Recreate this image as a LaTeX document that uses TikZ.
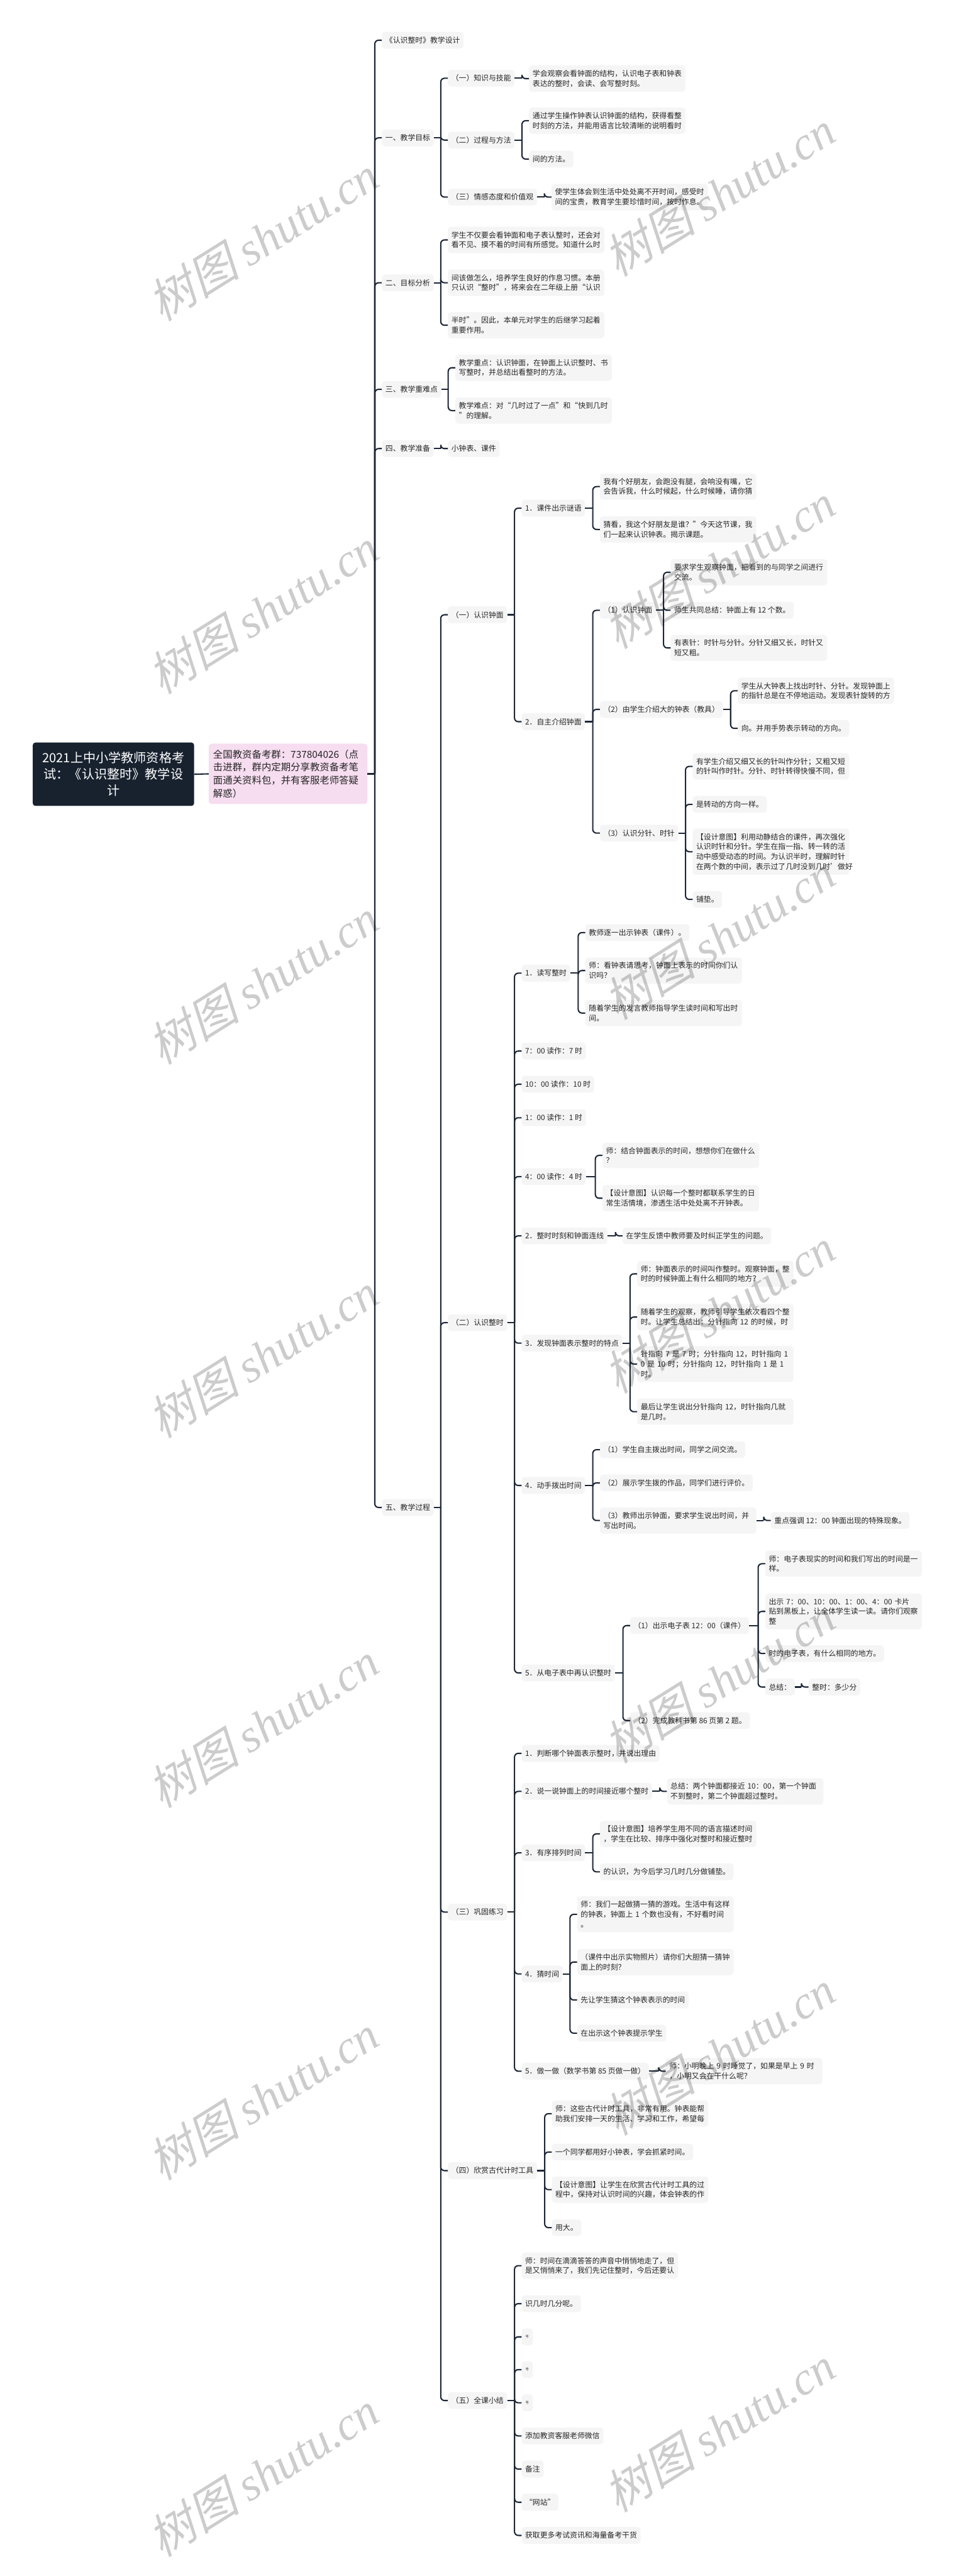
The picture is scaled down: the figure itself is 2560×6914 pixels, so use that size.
\documentclass[tikz,border=0pt]{standalone}
\usepackage{fontspec}
\setmainfont{Noto Sans CJK SC}
\newfontfamily\wmlat{Liberation Serif}
\newfontfamily\wmcjk[FakeSlant=0.25]{Noto Sans CJK SC}
\definecolor{boxfill}{HTML}{F5F5F5}
\definecolor{txt}{HTML}{262626}
\definecolor{linec}{HTML}{1C2636}
\definecolor{rootfill}{HTML}{18222F}
\definecolor{pinkfill}{HTML}{F6DDF0}
\tikzset{
  box/.style={fill=boxfill, rounded corners=8pt, text=txt, font=\fontsize{20}{26.5}\selectfont,
    inner xsep=9.5pt, inner ysep=12.5pt, minimum height=45pt, anchor=west},
  wbox/.style={box, text width=401pt, align=left},
  hao/.style={box, font=\fontsize{9}{10}\selectfont, inner xsep=0pt, minimum width=30pt},
  rootbox/.style={fill=rootfill, rounded corners=7pt, text=white, font=\fontsize{34}{44}\selectfont,
    align=center, minimum width=433pt, minimum height=170pt, inner xsep=4pt},
  pinkbox/.style={fill=pinkfill, rounded corners=8pt, text=txt, font=\fontsize{26}{35}\selectfont,
    text width=402pt, align=left, inner xsep=12pt, minimum height=162pt, anchor=west},
  conn/.style={draw=linec, line width=3.5pt},
  wm/.style={text=black, text opacity=0.2, rotate=32, font=\fontsize{125}{130}\selectfont}
}
\newcommand{\cn}[2]{%
  \path (#2.west) ++(-19,0) coordinate (tmpb);
  \draw[conn] (#1.east) -- (#1.east -| tmpb);
  \draw[conn,rounded corners=10pt] (#1.east -| tmpb) |- (#2.west);}
\newcommand{\wmtext}{{\wmcjk 树图}\ {\wmlat\itshape shutu.cn}}
\begin{document}
\begin{tikzpicture}[x=1pt,y=-1pt]
\useasboundingbox (0,0) rectangle (2560,6914);
% root
\node[rootbox] (root) at (304.5,2078) {2021上中小学教师资格考\\试：《认识整时》教学设\\计};
\node[pinkbox] (pk) at (560,2077) {全国教资备考群：737804026（点\\击进群，群内定期分享教资备考笔\\面通关资料包，并有客服老师答疑\\解惑）};
\draw[conn] (root.east) -- (pk.west);
% level 1
\node[box] (a) at (1025,108) {《认识整时》教学设计};
\node[box] (b) at (1025,370) {一、教学目标};
\node[box] (c) at (1025,759) {二、目标分析};
\node[box] (d) at (1025,1045) {三、教学重难点};
\node[box] (e) at (1025,1204) {四、教学准备};
\node[box] (f) at (1025,4046) {五、教学过程};
\foreach \n in {a,b,c,d,e,f} {\cn{pk}{\n}}
% 一
\node[box] (b1) at (1202,210) {（一）知识与技能};
\node[wbox] (b1a) at (1420,211) {学会观察会看钟面的结构，认识电子表和钟表\\表达的整时，会读、会写整时刻。};
\node[box] (b2) at (1202,376) {（二）过程与方法};
\node[wbox] (b2a) at (1420,324) {通过学生操作钟表认识钟面的结构，获得看整\\时刻的方法，并能用语言比较清晰的说明看时};
\node[box] (b2b) at (1420,427) {间的方法。};
\node[box] (b3) at (1202,529) {（三）情感态度和价值观};
\node[wbox] (b3a) at (1480,529) {使学生体会到生活中处处离不开时间，感受时\\间的宝贵，教育学生要珍惜时间，按时作息。};
\cn{b}{b1}\cn{b}{b2}\cn{b}{b3}
\cn{b1}{b1a}\cn{b2}{b2a}\cn{b2}{b2b}\cn{b3}{b3a}
% 二
\node[wbox] (c1) at (1202,644) {学生不仅要会看钟面和电子表认整时，还会对\\看不见、摸不着的时间有所感觉。知道什么时};
\node[wbox] (c2) at (1202,759) {间该做怎么，培养学生良好的作息习惯。本册\\只认识“整时”，将来会在二年级上册“认识};
\node[wbox] (c3) at (1202,873) {半时”。因此，本单元对学生的后继学习起着\\重要作用。};
\cn{c}{c1}\cn{c}{c2}\cn{c}{c3}
% 三
\node[wbox] (d1) at (1222,987) {教学重点：认识钟面，在钟面上认识整时、书\\写整时，并总结出看整时的方法。};
\node[wbox] (d2) at (1222,1102) {教学难点：对“几时过了一点”和“快到几时\\”的理解。};
\cn{d}{d1}\cn{d}{d2}
% 四
\node[box] (e1) at (1202,1204) {小钟表、课件};
\cn{e}{e1}
% 五
\node[box] (f1) at (1202,1650) {（一）认识钟面};
\node[box] (f2) at (1202,3550) {（二）认识整时};
\node[box] (f3) at (1202,5132) {（三）巩固练习};
\node[box] (f4) at (1202,5826) {（四）欣赏古代计时工具};
\node[box] (f5) at (1202,6443) {（五）全课小结};
\foreach \n in {f1,f2,f3,f4,f5} {\cn{f}{\n}}
% (一) 认识钟面
\node[box] (f1a) at (1400,1364) {1．课件出示谜语};
\node[box] (f1b) at (1400,1937) {2．自主介绍钟面};
\cn{f1}{f1a}\cn{f1}{f1b}
\node[wbox] (f1a1) at (1610,1306) {我有个好朋友，会跑没有腿，会响没有嘴，它\\会告诉我，什么时候起，什么时候睡，请你猜};
\node[wbox] (f1a2) at (1610,1421) {猜看，我这个好朋友是谁？”今天这节课，我\\们一起来认识钟表。揭示课题。};
\cn{f1a}{f1a1}\cn{f1a}{f1a2}
\node[box] (p1) at (1610,1638) {（1）认识钟面};
\node[box] (p2) at (1610,1904) {（2）由学生介绍大的钟表（教具）};
\node[box] (p3) at (1610,2236) {（3）认识分针、时针};
\cn{f1b}{p1}\cn{f1b}{p2}\cn{f1b}{p3}
\node[wbox] (p1a) at (1800,1536) {要求学生观察钟面，把看到的与同学之间进行\\交流。};
\node[box] (p1b) at (1800,1638) {师生共同总结：钟面上有 12 个数。};
\node[wbox] (p1c) at (1800,1739) {有表针：时针与分针。分针又细又长，时针又\\短又粗。};
\cn{p1}{p1a}\cn{p1}{p1b}\cn{p1}{p1c}
\node[wbox] (p2a) at (1980,1854) {学生从大钟表上找出时针、分针。发现钟面上\\的指针总是在不停地运动。发现表针旋转的方};
\node[box] (p2b) at (1980,1955) {向。并用手势表示转动的方向。};
\cn{p2}{p2a}\cn{p2}{p2b}
\node[wbox] (p3a) at (1859,2057) {有学生介绍又细又长的针叫作分针；又粗又短\\的针叫作时针。分针、时针转得快慢不同，但};
\node[box] (p3b) at (1859,2159) {是转动的方向一样。};
\node[wbox] (p3c) at (1859,2286) {【设计意图】利用动静结合的课件，再次强化\\认识时针和分针。学生在指一指、转一转的活\\动中感受动态的时间。为认识半时，理解时针\\在两个数的中间，表示过了几时没到几时’做好};
\node[box] (p3d) at (1859,2414) {铺垫。};
\cn{p3}{p3a}\cn{p3}{p3b}\cn{p3}{p3c}\cn{p3}{p3d}
% (二) 认识整时
\node[box] (g1) at (1400,2612) {1．读写整时};
\node[box] (g2) at (1400,2821) {7：00 读作：7 时};
\node[box] (g3) at (1400,2910) {10：00 读作：10 时};
\node[box] (g4) at (1400,3000) {1：00 读作：1 时};
\node[box] (g5) at (1400,3158) {4：00 读作：4 时};
\node[box] (g6) at (1400,3317) {2．整时时刻和钟面连线};
\node[box] (g7) at (1400,3605) {3．发现钟面表示整时的特点};
\node[box] (g8) at (1400,3987) {4．动手拨出时间};
\node[box] (g9) at (1400,4490) {5．从电子表中再认识整时};
\foreach \n in {g1,g2,g3,g4,g5,g6,g7,g8,g9} {\cn{f2}{\n}}
\node[box] (g1a) at (1571,2503) {教师逐一出示钟表（课件）。};
\node[wbox] (g1b) at (1571,2605) {师：看钟表请思考，钟面上表示的时间你们认\\识吗？};
\node[wbox] (g1c) at (1571,2719) {随着学生的发言教师指导学生读时间和写出时\\间。};
\cn{g1}{g1a}\cn{g1}{g1b}\cn{g1}{g1c}
\node[wbox] (g5a) at (1617,3101) {师：结合钟面表示的时间，想想你们在做什么\\？};
\node[wbox] (g5b) at (1617,3216) {【设计意图】认识每一个整时都联系学生的日\\常生活情境，渗透生活中处处离不开钟表。};
\cn{g5}{g5a}\cn{g5}{g5b}
\node[box] (g6a) at (1671,3317) {在学生反馈中教师要及时纠正学生的问题。};
\cn{g6}{g6a}
\node[wbox] (g7a) at (1710,3419) {师：钟面表示的时间叫作整时。观察钟面，整\\时的时候钟面上有什么相同的地方？};
\node[wbox] (g7b) at (1710,3535) {随着学生的观察，教师引导学生依次看四个整\\时。让学生总结出：分针指向 12 的时候，时};
\node[wbox] (g7c) at (1710,3661) {针指向 7 是 7 时；分针指向 12，时针指向 1\\0 是 10 时；分针指向 12，时针指向 1 是 1\\时。};
\node[wbox] (g7d) at (1710,3789) {最后让学生说出分针指向 12，时针指向几就\\是几时。};
\cn{g7}{g7a}\cn{g7}{g7b}\cn{g7}{g7c}\cn{g7}{g7d}
\node[box] (g8a) at (1610,3891) {（1）学生自主拨出时间，同学之间交流。};
\node[box] (g8b) at (1610,3980) {（2）展示学生拨的作品，同学们进行评价。};
\node[wbox] (g8c) at (1610,4081) {（3）教师出示钟面，要求学生说出时间，并\\写出时间。};
\cn{g8}{g8a}\cn{g8}{g8b}\cn{g8}{g8c}
\node[box] (g8c1) at (2069,4081) {重点强调 12：00 钟面出现的特殊现象。};
\cn{g8c}{g8c1}
\node[box] (g9a) at (1691,4363) {（1）出示电子表 12：00（课件）};
\node[box] (g9b) at (1691,4618) {（2）完成教科书第 86 页第 2 题。};
\cn{g9}{g9a}\cn{g9}{g9b}
\node[wbox] (g9a1) at (2054,4197) {师：电子表现实的时间和我们写出的时间是一\\样。};
\node[wbox] (g9a2) at (2054,4325) {出示 7：00、10：00、1：00、4：00 卡片\\贴到黑板上，让全体学生读一读。请你们观察\\整};
\node[box] (g9a3) at (2054,4438) {时的电子表，有什么相同的地方。};
\node[box] (g9a4) at (2054,4528) {总结：};
\cn{g9a}{g9a1}\cn{g9a}{g9a2}\cn{g9a}{g9a3}\cn{g9a}{g9a4}
\node[box] (g9a4a) at (2170,4528) {整时：多少分};
\cn{g9a4}{g9a4a}
% (三) 巩固练习
\node[box] (h1) at (1400,4706) {1．判断哪个钟面表示整时，并说出理由};
\node[box] (h2) at (1400,4808) {2．说一说钟面上的时间接近哪个整时};
\node[box] (h3) at (1400,4973) {3．有序排列时间};
\node[box] (h4) at (1400,5298) {4．猜时间};
\node[box] (h5) at (1400,5559) {5．做一做（数学书第 85 页做一做）};
\foreach \n in {h1,h2,h3,h4,h5} {\cn{f3}{\n}}
\node[wbox] (h2a) at (1790,4808) {总结：两个钟面都接近 10：00，第一个钟面\\不到整时，第二个钟面超过整时。};
\cn{h2}{h2a}
\node[wbox] (h3a) at (1610,4922) {【设计意图】培养学生用不同的语言描述时间\\，学生在比较、排序中强化对整时和接近整时};
\node[box] (h3b) at (1610,5024) {的认识，为今后学习几时几分做铺垫。};
\cn{h3}{h3a}\cn{h3}{h3b}
\node[wbox] (h4a) at (1549,5138) {师：我们一起做猜一猜的游戏。生活中有这样\\的钟表，钟面上 1 个数也没有，不好看时间\\。};
\node[wbox] (h4b) at (1549,5266) {（课件中出示实物照片）请你们大胆猜一猜钟\\面上的时刻？};
\node[box] (h4c) at (1549,5368) {先让学生猜这个钟表表示的时间};
\node[box] (h4d) at (1549,5457) {在出示这个钟表提示学生};
\cn{h4}{h4a}\cn{h4}{h4b}\cn{h4}{h4c}\cn{h4}{h4d}
\node[wbox] (h5a) at (1787,5559) {师：小明晚上 9 时睡觉了，如果是早上 9 时\\，小明又会在干什么呢？};
\cn{h5}{h5a}
% (四)
\node[wbox] (i1) at (1481,5673) {师：这些古代计时工具，非常有用。钟表能帮\\助我们安排一天的生活、学习和工作，希望每};
\node[box] (i2) at (1481,5776) {一个同学都用好小钟表，学会抓紧时间。};
\node[wbox] (i3) at (1481,5877) {【设计意图】让学生在欣赏古代计时工具的过\\程中，保持对认识时间的兴趣，体会钟表的作};
\node[box] (i4) at (1481,5979) {用大。};
\foreach \n in {i1,i2,i3,i4} {\cn{f4}{\n}}
% (五)
\node[wbox] (j1) at (1400,6081) {师：时间在滴滴答答的声音中悄悄地走了，但\\是又悄悄来了，我们先记住整时，今后还要认};
\node[box] (j2) at (1400,6183) {识几时几分呢。};
\node[hao] (j3) at (1400,6272) {号};
\node[hao] (j4) at (1400,6360) {号};
\node[hao] (j5) at (1400,6449) {号};
\node[box] (j6) at (1400,6538) {添加教资客服老师微信};
\node[box] (j7) at (1400,6627) {备注};
\node[box] (j8) at (1400,6716) {“网站”};
\node[box] (j9) at (1400,6805) {获取更多考试资讯和海量备考干货};
\foreach \n in {j1,j2,j3,j4,j5,j6,j7,j8,j9} {\cn{f5}{\n}}
% watermarks
\foreach \yy in {520,1520,2515,3518,4510,5510,6520} {
  \node[wm] (wr\yy) at (1930,\yy) {\wmtext};
  \node[wm] (wl\yy) at (705,\yy+120) {\wmtext};
}
\end{tikzpicture}
\end{document}
